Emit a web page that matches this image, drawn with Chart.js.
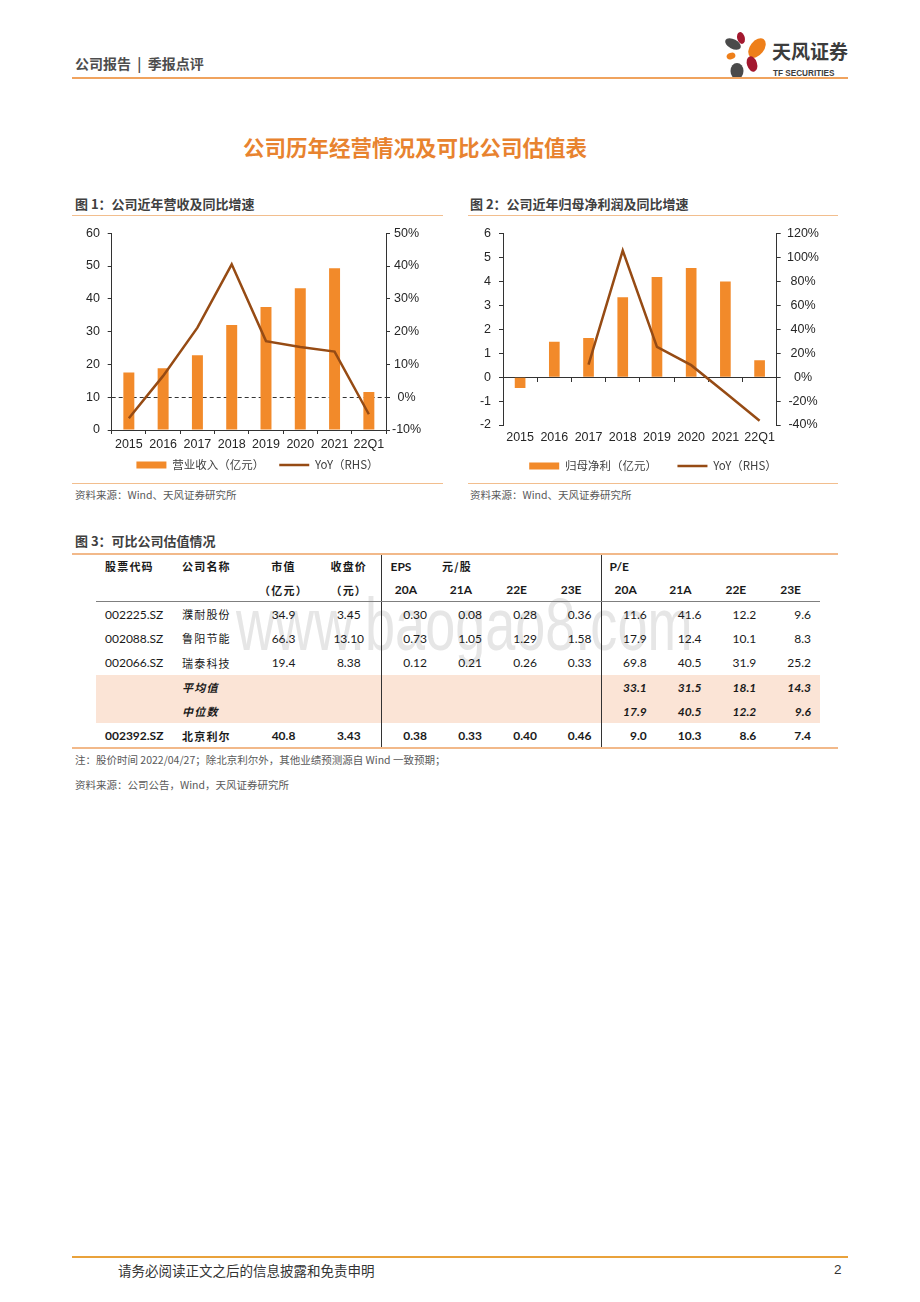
<!DOCTYPE html>
<html lang="zh-CN">
<head>
<meta charset="utf-8">
<title>公司历年经营情况及可比公司估值表</title>
<script src="https://cdn.jsdelivr.net/npm/chart.js@4.4.1/dist/chart.umd.min.js"></script>
<style>
  html, body { margin: 0; padding: 0; background: #fff; }
  body { width: 920px; height: 1302px; position: relative; overflow: hidden;
         font-family: "Noto Sans CJK SC", "Noto Sans", sans-serif; color: #333; }
  .abs { position: absolute; white-space: nowrap; }
  .rule { position: absolute; height: 0; }
  .cap { font-size: 13px; font-weight: bold; color: #404040; line-height: 16px; }
  .src { font-size: 10.5px; color: #595959; line-height: 14px; }
  .box { position: absolute; }
  #wm { left: 236px; top: 588px; font-family: "Liberation Sans", sans-serif; font-size: 74px; line-height: 74px;
        color: #e6e6e6; transform: scaleX(0.73); transform-origin: left top; }
  table.val { position: absolute; left: 96px; top: 554px; width: 724px; border-collapse: collapse;
              table-layout: fixed; font-family: Lato, "Noto Sans CJK SC", sans-serif; font-size: 12px; color: #1a1a1a; }
  table.val td { padding: 0; white-space: nowrap; overflow: visible; }
  table.val tr.h1 td { height: 24.5px; }
  table.val tr.h2 td { height: 22.5px; border-bottom: 1.5px solid #7f7f7f; }
  table.val tr.r td { height: 24.3px; }
  table.val tr.shade td { background: #fbe4d6; }
  table.val tr.bold td { font-weight: bold; }
  .zh { font-family: "Noto Sans CJK SC", sans-serif; font-size: 11px; letter-spacing: 1.2px; }
  .hd { font-weight: bold; }
  .c-code { text-align: left; padding-left: 9px !important; }
  .c-name { text-align: left; padding-left: 7px !important; }
  .c-cap { text-align: center; }
  .c-px { text-align: center; padding-left: 5px !important; }
  .c-num { text-align: right; padding-right: 9px !important; }
  .c-yr { text-align: right; padding-right: 19px !important; font-weight: bold; }
  .sep { border-left: 1px solid #333; }
  .it { font-style: italic; font-weight: bold; }
</style>
</head>
<body>

<!-- page header -->
<div class="abs" style="left:75px;top:54px;font-size:14px;font-weight:bold;color:#4d4d4d;line-height:18px;">公司报告 &nbsp;|&nbsp; 季报点评</div>
<svg class="abs" style="left:722px;top:30px;" width="130" height="52" viewBox="0 0 130 52">
  <ellipse cx="19" cy="8" rx="3.8" ry="6" transform="rotate(-15 19 8)" fill="#a3182f"/>
  <ellipse cx="11" cy="14" rx="8.5" ry="4.8" transform="rotate(28 11 14)" fill="#4a4a4a"/>
  <ellipse cx="35" cy="18" rx="7" ry="11" transform="rotate(38 35 18)" fill="#ee7f1a"/>
  <ellipse cx="9" cy="26" rx="4.5" ry="3.2" transform="rotate(-20 9 26)" fill="#ee7f1a"/>
  <ellipse cx="30" cy="34" rx="5" ry="8" transform="rotate(-18 30 34)" fill="#a3182f"/>
  <ellipse cx="15" cy="41" rx="6.5" ry="8" fill="#4a4a4a"/>
  <text x="50" y="29" font-family="Noto Sans CJK SC" font-weight="bold" font-size="19" fill="#3c3c3c">天风证券</text>
  <text x="51" y="46" font-family="Liberation Sans" font-weight="bold" font-size="8.2" fill="#3c3c3c">TF SECURITIES</text>
</svg>
<div class="rule" style="left:72px;top:77px;width:776px;border-top:2px solid #f0a35e;"></div>

<!-- title -->
<div class="abs" style="left:0;top:133px;width:830px;text-align:center;font-size:21.5px;font-weight:bold;color:#e8832f;line-height:28px;">公司历年经营情况及可比公司估值表</div>

<!-- figure 1 -->
<div class="abs cap" style="left:75px;top:196px;">图 1：公司近年营收及同比增速</div>
<div class="rule" style="left:72px;top:215px;width:371px;border-top:1.5px solid #f2be8e;"></div>
<div class="box" style="left:72px;top:218px;width:371px;height:265px;"><canvas id="chart-revenue"></canvas></div>
<div class="rule" style="left:72px;top:483px;width:371px;border-top:1px solid #f2be8e;"></div>
<div class="abs src" style="left:75px;top:488px;">资料来源：Wind、天风证券研究所</div>

<!-- figure 2 -->
<div class="abs cap" style="left:470px;top:196px;">图 2：公司近年归母净利润及同比增速</div>
<div class="rule" style="left:468px;top:215px;width:370px;border-top:1.5px solid #f2be8e;"></div>
<div class="box" style="left:468px;top:218px;width:370px;height:265px;"><canvas id="chart-profit"></canvas></div>
<div class="rule" style="left:468px;top:483px;width:370px;border-top:1px solid #f2be8e;"></div>
<div class="abs src" style="left:470px;top:488px;">资料来源：Wind、天风证券研究所</div>

<!-- figure 3 -->
<div class="abs cap" style="left:75px;top:533px;">图 3：可比公司估值情况</div>
<div id="wm" class="abs">www.baogao8.com</div>
<table class="val" id="peer-table"></table>
<div class="rule" style="left:72px;top:553px;width:766px;border-top:2px solid #f2b98a;"></div>
<div class="rule" style="left:72px;top:747px;width:766px;border-top:2px solid #f2b98a;"></div>
<div class="abs src" style="left:75px;top:753px;">注：股价时间 2022/04/27；除北京利尔外，其他业绩预测源自 Wind 一致预期；</div>
<div class="abs src" style="left:75px;top:778px;">资料来源：公司公告，Wind，天风证券研究所</div>

<!-- footer -->
<div class="rule" style="left:72px;top:1256px;width:776px;border-top:2px solid #e9a23b;"></div>
<div class="abs" style="left:118px;top:1261px;font-size:13.5px;color:#333;line-height:18px;">请务必阅读正文之后的信息披露和免责申明</div>
<div class="abs" style="left:834px;top:1261px;font-size:13.5px;color:#333;line-height:18px;font-family:'Liberation Sans';">2</div>

<script>
// chart data
const years = ['2015', '2016', '2017', '2018', '2019', '2020', '2021', '22Q1'];
const revenue = [17.5, 18.8, 22.8, 32.0, 37.5, 43.2, 49.3, 11.6];          // 营业收入（亿元）
const revenueYoY = [-6.4, 6.5, 21.2, 40.5, 17.1, 15.3, 13.9, -5.2];        // %
const netProfit = [-0.45, 1.48, 1.63, 3.34, 4.18, 4.56, 3.99, 0.71];       // 归母净利（亿元）
const netProfitYoY = [null, null, 10.5, 105.7, 25.3, 10.0, -13.0, -36.5];  // %

// table data
const tableHead1 = ['股票代码', '公司名称', '市值', '收盘价', 'EPS', '元/股', '', '', 'P/E', '', '', ''];
const tableHead2 = ['', '', '（亿元）', '（元）', '20A', '21A', '22E', '23E', '20A', '21A', '22E', '23E'];
const peerCodes = ['002225.SZ', '002088.SZ', '002066.SZ'];
const peerNames = ['濮耐股份', '鲁阳节能', '瑞泰科技'];
const peerCap = ['34.9', '66.3', '19.4'];
const peerPrice = ['3.45', '13.10', '8.38'];
const peerEps = [['0.30', '0.08', '0.28', '0.36'], ['0.73', '1.05', '1.29', '1.58'], ['0.12', '0.21', '0.26', '0.33']];
const peerPe = [['11.6', '41.6', '12.2', '9.6'], ['17.9', '12.4', '10.1', '8.3'], ['69.8', '40.5', '31.9', '25.2']];
const avgPe = ['33.1', '31.5', '18.1', '14.3'];
const medianPe = ['17.9', '40.5', '12.2', '9.6'];
const company = ['002392.SZ', '北京利尔', '40.8', '3.43'];
const companyEps = ['0.38', '0.33', '0.40', '0.46'];
const companyPe = ['9.0', '10.3', '8.6', '7.4'];

const barColor = '#f28a2a';
const lineColor = '#964b14';
const axisColor = '#333333';

Chart.defaults.font.family = 'Liberation Sans';
Chart.defaults.font.size = 12.5;
Chart.defaults.color = '#262626';

// padding sets the legend's vertical place, the spacer widens the gap between the two items
function legendOptions(padding, spacer) {
    return {
        position: 'bottom',
        labels: {
            usePointStyle: true,
            pointStyleWidth: 30,
            boxHeight: 7,
            padding: padding,
            color: '#404040',
            font: { family: 'Noto Sans CJK SC', size: 11.5 },
            sort: (a, b) => a.datasetIndex - b.datasetIndex,
            generateLabels: chart => Chart.defaults.plugins.legend.labels.generateLabels(chart).map(item => {
                item.pointStyle = item.datasetIndex === 0 ? 'rect' : 'line';
                if (item.datasetIndex === 0) item.text += spacer;
                return item;
            })
        }
    };
}

function datasets(barLabel, bars, lineLabel, line) {
    return [{
        type: 'bar',
        label: barLabel,
        data: bars,
        backgroundColor: barColor,
        borderWidth: 0,
        barPercentage: 0.8,
        categoryPercentage: 0.4,
        yAxisID: 'y',
        order: 1
    }, {
        type: 'line',
        label: lineLabel,
        data: line,
        borderColor: lineColor,
        backgroundColor: lineColor,
        borderWidth: 2.5,
        pointRadius: 0,
        pointBorderWidth: 2.5,
        tension: 0,
        yAxisID: 'y1',
        order: 0
    }];
}

// 图1
new Chart(document.getElementById('chart-revenue'), {
    type: 'bar',
    data: { labels: years, datasets: datasets('营业收入（亿元）', revenue, 'YoY（RHS）', revenueYoY) },
    options: {
        responsive: true,
        maintainAspectRatio: false,
        animation: false,
        layout: { padding: { top: 14.7, bottom: 2.25, left: 0, right: 0 } },
        plugins: { legend: legendOptions(6.75, '\u3000 '), tooltip: { enabled: false } },
        scales: {
            x: {
                grid: { offset: true, drawOnChartArea: false, tickLength: 4, color: axisColor },
                border: { color: axisColor },
                ticks: { padding: 3.5, maxRotation: 0, minRotation: 0, autoSkip: false },
                afterFit: s => { s.height = 22.5; }
            },
            y: {
                position: 'left', min: 0, max: 60,
                ticks: { stepSize: 10, padding: 7.7 },
                grid: { drawOnChartArea: false, tickLength: 4, color: axisColor },
                border: { color: axisColor },
                afterFit: s => { s.width = 39.7; }
            },
            y1: {
                position: 'right', min: -10, max: 50,
                ticks: { stepSize: 10, padding: 2, crossAlign: 'center', callback: v => v + '%' },
                grid: {
                    drawOnChartArea: true,
                    color: c => (c.tick && c.tick.value === 0) ? '#333333' : 'rgba(0,0,0,0)',
                    tickColor: axisColor,
                    tickLength: 4
                },
                border: { color: axisColor, dash: [4, 3] },
                afterFit: s => { s.width = 57; }
            }
        }
    }
});

// 图2
const profitData = datasets('归母净利（亿元）', netProfit, 'YoY（RHS）', netProfitYoY);
profitData[0].categoryPercentage = 0.39;
new Chart(document.getElementById('chart-profit'), {
    type: 'bar',
    data: { labels: years, datasets: profitData },
    options: {
        responsive: true,
        maintainAspectRatio: false,
        animation: false,
        layout: { padding: { top: 9.3, bottom: 1.25, left: 0, right: 0 } },
        plugins: { legend: legendOptions(14.75, '\u3000'), tooltip: { enabled: false } },
        scales: {
            x: {
                grid: { display: false, drawTicks: false },
                border: { display: false },
                ticks: { padding: 5.5, maxRotation: 0, minRotation: 0, autoSkip: false },
                afterFit: s => { s.height = 20.5; }
            },
            x2: {
                type: 'category',
                position: { y: 0 },
                offset: true,
                grid: { offset: true, drawOnChartArea: false, tickLength: 4, color: axisColor },
                border: { color: axisColor },
                ticks: { display: false }
            },
            y: {
                position: 'left', min: -2, max: 6,
                ticks: { stepSize: 1, padding: 8 },
                grid: { drawOnChartArea: false, tickLength: 4, color: axisColor },
                border: { color: axisColor },
                afterFit: s => { s.width = 35; }
            },
            y1: {
                position: 'right', min: -40, max: 120,
                ticks: { stepSize: 20, padding: 6.3, crossAlign: 'center', callback: v => v + '%' },
                grid: { drawOnChartArea: false, tickLength: 4, color: axisColor },
                border: { color: axisColor },
                afterFit: s => { s.width = 61.3; }
            }
        }
    }
});

// 图3 table
const colWidths = [79, 80, 57, 69, 55, 55, 55, 55, 54.75, 54.75, 54.75, 54.75];
const table = document.getElementById('peer-table');
const colgroup = document.createElement('colgroup');
colWidths.forEach(w => {
    const col = document.createElement('col');
    col.style.width = w + 'px';
    colgroup.appendChild(col);
});
table.appendChild(colgroup);

function addRow(rowClass, cells) {
    const tr = document.createElement('tr');
    tr.className = rowClass;
    cells.forEach((c, i) => {
        const td = document.createElement('td');
        td.textContent = c.text;
        td.className = c.cls + ((i === 4 || i === 8) ? ' sep' : '');
        tr.appendChild(td);
    });
    table.appendChild(tr);
}

const numCls = ['c-code', 'c-name zh', 'c-cap', 'c-px', 'c-num', 'c-num', 'c-num', 'c-num', 'c-num', 'c-num', 'c-num', 'c-num'];

addRow('h1', tableHead1.map((t, i) => {
    const cls = ['c-code zh hd', 'c-name zh hd', 'c-cap zh hd', 'c-px zh hd', 'hd', 'zh hd', '', '', 'hd', '', '', ''][i];
    const style = i === 4 ? ' c-code' : (i === 5 ? ' c-h5' : (i === 8 ? ' c-p8' : ''));
    return { text: t, cls: cls + style };
}));
addRow('h2', tableHead2.map((t, i) => ({ text: t, cls: i < 4 ? ['', '', 'c-cap zh hd', 'c-px zh hd'][i] : 'c-yr' })));

peerCodes.forEach((code, r) => {
    const vals = [code, peerNames[r], peerCap[r], peerPrice[r]].concat(peerEps[r], peerPe[r]);
    addRow('r', vals.map((t, i) => ({ text: t, cls: numCls[i] })));
});
addRow('r shade', ['', '平均值', '', '', '', '', '', ''].concat(avgPe).map((t, i) => ({ text: t, cls: numCls[i] + ' it' })));
addRow('r shade', ['', '中位数', '', '', '', '', '', ''].concat(medianPe).map((t, i) => ({ text: t, cls: numCls[i] + ' it' })));
addRow('r bold', company.concat(companyEps, companyPe).map((t, i) => ({ text: t, cls: numCls[i] })));

document.querySelectorAll('.c-h5').forEach(td => { td.style.textAlign = 'left'; td.style.paddingLeft = '6px'; });
document.querySelectorAll('.c-p8').forEach(td => { td.style.textAlign = 'left'; td.style.paddingLeft = '8px'; });
</script>
</body>
</html>
